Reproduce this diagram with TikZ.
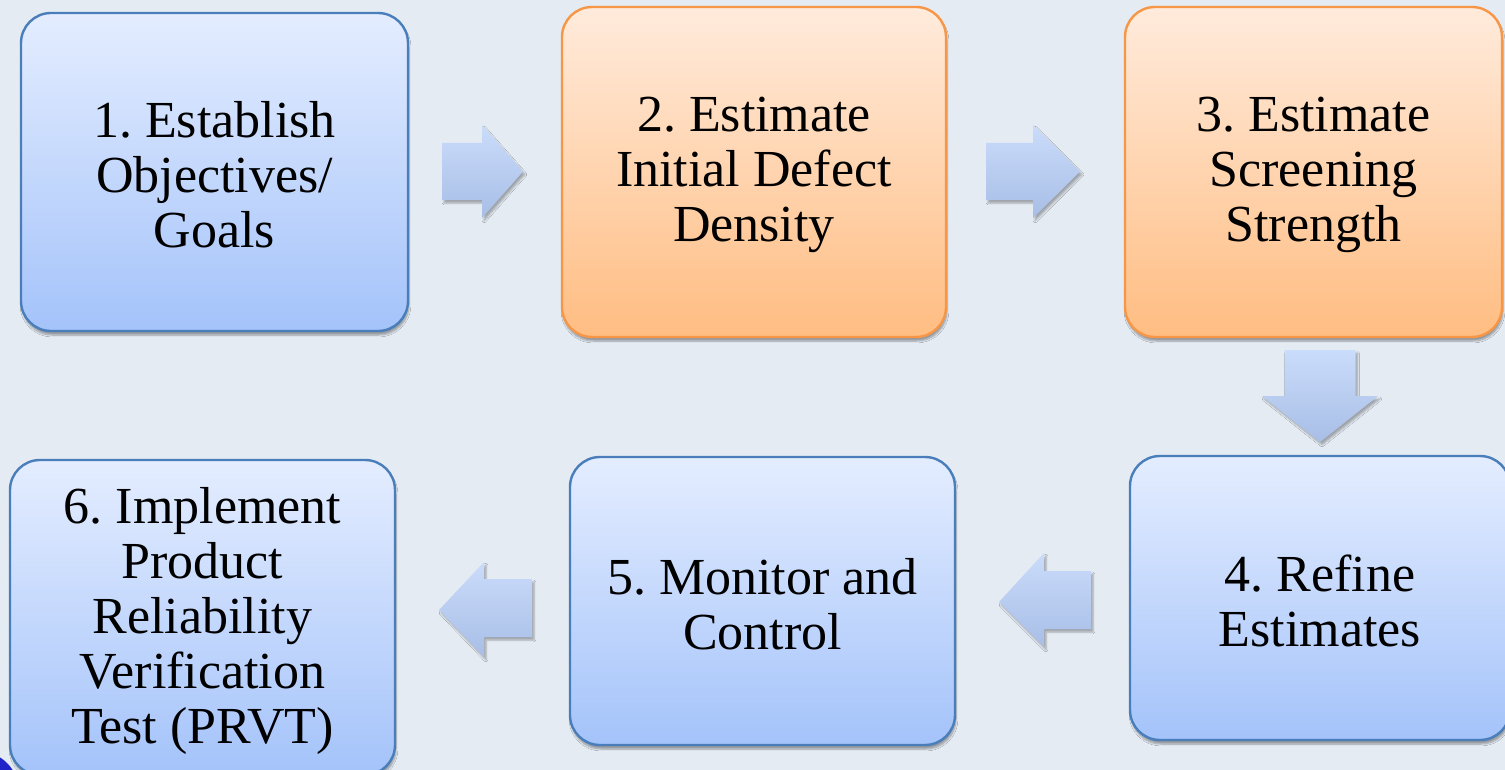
\documentclass[tikz,border=0pt]{standalone}
\usepackage{fontspec}
\setmainfont{Liberation Serif}
\usetikzlibrary{shadows.blur}
\frenchspacing

\definecolor{bgpanel}{RGB}{228,235,243}
\definecolor{bluetop}{RGB}{228,237,255}
\definecolor{bluebot}{RGB}{164,195,250}
\definecolor{blueline}{RGB}{74,126,187}
\definecolor{orangetop}{RGB}{255,235,220}
\definecolor{orangebot}{RGB}{255,189,130}
\definecolor{orangeline}{RGB}{247,150,70}
\definecolor{arrowtop}{RGB}{202,220,251}
\definecolor{arrowbot}{RGB}{168,190,230}
\definecolor{cornerblue}{RGB}{32,36,200}

\tikzset{
  stepbox/.style={
    rectangle, rounded corners=30pt, inner sep=0pt, line width=2.4pt,
    blur shadow={shadow xshift=1pt, shadow yshift=-4pt, shadow opacity=35, shadow blur steps=6}
  },
  bluebox/.style={stepbox, draw=blueline, top color=bluetop, bottom color=bluebot},
  orangebox/.style={stepbox, draw=orangeline, top color=orangetop, bottom color=orangebot},
  steptext/.style={inner sep=0pt, align=center, font=\fontsize{52}{55}\selectfont, yshift=-3pt},
  flowarrow/.style={
    top color=arrowtop, bottom color=arrowbot, draw=none,
    blur shadow={shadow xshift=2pt, shadow yshift=-3pt, shadow opacity=30, shadow blur steps=5}
  }
}

\begin{document}
\begin{tikzpicture}[x=1pt,y=-1pt]
  % canvas
  \useasboundingbox (0,0) rectangle (1505,770);
  \clip (0,0) rectangle (1505,770);
  \fill[bgpanel] (0,0) rectangle (1505,770);

  % process steps
  \node[bluebox, minimum width=387pt, minimum height=318pt] (b1) at (214.5,172) {};
  \node[orangebox, minimum width=384pt, minimum height=330pt] (b2) at (754,172) {};
  \node[orangebox, minimum width=377pt, minimum height=330pt] (b3) at (1313.5,172) {};
  \node[bluebox, minimum width=380pt, minimum height=284pt] (b4) at (1320,598) {};
  \node[bluebox, minimum width=385pt, minimum height=288pt] (b5) at (762.5,601) {};
  \node[bluebox, minimum width=385pt, minimum height=315pt] (b6) at (202.5,617.5) {};

  % step labels
  \node[steptext] (t1) at (b1.center) {1. Establish\\Objectives/\\Goals};
  \node[steptext] (t2) at (b2.center) {2. Estimate\\Initial Defect\\Density};
  \node[steptext] (t3) at (b3.center) {3. Estimate\\Screening\\Strength};
  \node[steptext] (t4) at (b4.center) {4. Refine\\Estimates};
  \node[steptext] (t5) at (b5.center) {5. Monitor and\\Control};
  \node[steptext] (t6) at (b6.center) {6. Implement\\Product\\Reliability\\Verification\\Test (PRVT)};

  % block arrows between the steps
  \coordinate (a12) at (482.5,171.5);
  \coordinate (a23) at (1033,171.5);
  \coordinate (a34) at (1320,396);
  \coordinate (a45) at (1045,600);
  \coordinate (a56) at (485.5,609.5);

  \path[flowarrow, shift={(a12)}]
    (-40.5,-28.5) -- (-0.5,-28.5) -- (-0.5,-46.5) -- (40.5,0) --
    (-0.5,46.5) -- (-0.5,28.5) -- (-40.5,28.5) -- cycle;
  \path[flowarrow, shift={(a23)}]
    (-47,-28.5) -- (0,-28.5) -- (0,-46.5) -- (47,0) --
    (0,46.5) -- (0,28.5) -- (-47,28.5) -- cycle;
  \path[flowarrow, shift={(a34)}]
    (-35.5,-46) -- (35.5,-46) -- (35.5,0) -- (58,0) --
    (0,46) -- (-58,0) -- (-35.5,0) -- cycle;
  \path[flowarrow, shift={(a45)}]
    (46,-29) -- (-1,-29) -- (-1,-47) -- (-46,2) --
    (-1,47) -- (-1,29) -- (46,29) -- cycle;
  \path[flowarrow, shift={(a56)}]
    (46.5,-30.5) -- (-1.5,-30.5) -- (-1.5,-47.5) -- (-46.5,0.5) --
    (-1.5,47.5) -- (-1.5,27.5) -- (46.5,27.5) -- cycle;

  % corner ornament
  \fill[cornerblue] (-22,792) circle (41pt);
\end{tikzpicture}
\end{document}
